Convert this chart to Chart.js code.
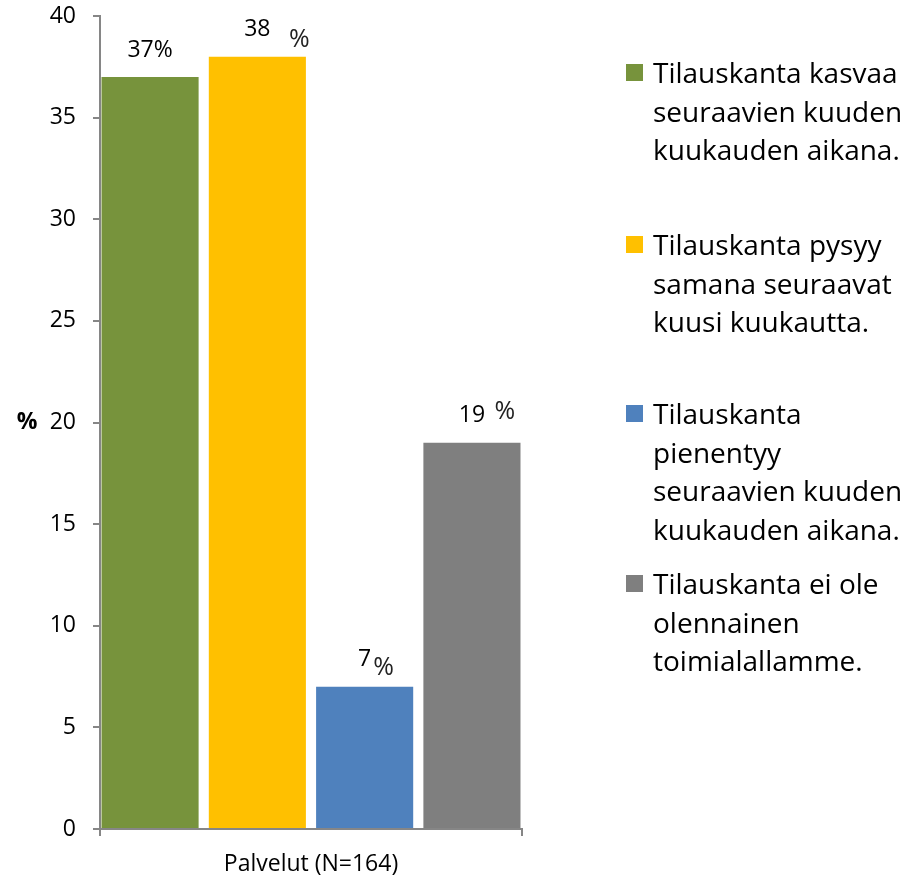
<!DOCTYPE html>
<html>
<head>
<meta charset="utf-8">
<script src="https://cdn.jsdelivr.net/npm/chart.js@4.4.0/dist/chart.umd.min.js"></script>
<style>
html,body{margin:0;padding:0;background:#fff;}
canvas{display:block;}
</style>
</head>
<body>
<canvas id="c" width="902" height="876"></canvas>
<script>
// ---- data ----
const categories = ["Palvelut (N=164)"];
const seriesLabels = [
  ["Tilauskanta kasvaa", "seuraavien kuuden", "kuukauden aikana."],
  ["Tilauskanta pysyy", "samana seuraavat", "kuusi kuukautta."],
  ["Tilauskanta", "pienentyy", "seuraavien kuuden", "kuukauden aikana."],
  ["Tilauskanta ei ole", "olennainen", "toimialallamme."]
];
const seriesValues = [[37], [38], [7], [19]];
const yTicks = [0, 5, 10, 15, 20, 25, 30, 35, 40];
const yTitle = "%";

// ---- styles ----
const colors = ["#77933C", "#FFC000", "#4F81BD", "#7F7F7F"];
const axisColor = "#868686";
const FONT = "'Open Sans', 'Noto Sans', sans-serif";
// percent-sign placement relative to each bar label (null = attached)
const pctOffsets = [null, {dx: 42, dy: 10}, {dx: 19, dy: 8.5}, {dx: 33, dy: -3.5}];
const legendBaselines = [83, 255, 424, 594];

const valueLabels = {
  id: 'valueLabels',
  afterDatasetsDraw(chart) {
    const ctx = chart.ctx;
    ctx.save();
    ctx.fillStyle = '#000';
    ctx.textBaseline = 'middle';
    chart.data.datasets.forEach((ds, i) => {
      const el = chart.getDatasetMeta(i).data[0];
      const v = ds.data[0];
      const cx = el.x, cy = el.y - 27;
      const off = pctOffsets[i];
      ctx.textAlign = 'center';
      ctx.font = "23px " + FONT;
      if (!off) {
        ctx.fillText(v + "%", cx, cy);
      } else {
        ctx.fillText(String(v), cx, cy);
        ctx.font = "25px " + FONT;
        ctx.fillStyle = '#222';
        ctx.fillText("%", cx + off.dx, cy + off.dy);
        ctx.fillStyle = '#000';
      }
    });
    ctx.restore();
  }
};

const extras = {
  id: 'extras',
  afterDraw(chart) {
    const ctx = chart.ctx;
    ctx.save();
    // y axis title
    ctx.fillStyle = '#000';
    ctx.font = "bold 23px " + FONT;
    ctx.textAlign = 'center';
    ctx.textBaseline = 'middle';
    const ys = chart.scales.y;
    ctx.fillText(yTitle, 27, ys.getPixelForValue(20));
    // legend
    ctx.textAlign = 'left';
    ctx.textBaseline = 'alphabetic';
    ctx.font = "28px " + FONT;
    seriesLabels.forEach((lines, i) => {
      const b = legendBaselines[i];
      ctx.fillStyle = colors[i];
      ctx.fillRect(626, b - 19, 17, 17);
      ctx.fillStyle = '#000';
      lines.forEach((t, j) => ctx.fillText(t, 653, b + j * 38.5));
    });
    ctx.restore();
  }
};

new Chart(document.getElementById('c'), {
  type: 'bar',
  data: {
    labels: categories,
    datasets: seriesValues.map((vals, i) => ({
      label: seriesLabels[i].join(' '),
      data: vals,
      backgroundColor: colors[i],
      borderWidth: 0,
      categoryPercentage: 1.017,
      barPercentage: 0.905
    }))
  },
  options: {
    responsive: false,
    animation: false,
    layout: {padding: {left: 0, right: 380, top: 16, bottom: 0}},
    plugins: {legend: {display: false}, tooltip: {enabled: false}},
    scales: {
      x: {
        grid: {display: true, drawOnChartArea: false, color: axisColor, lineWidth: 2, tickLength: 7},
        border: {color: axisColor, width: 2},
        ticks: {color: '#000', font: {family: FONT, size: 23}, padding: 15},
        afterFit(s) { s.height = 47; s.paddingLeft = 0; s.paddingRight = 0; }
      },
      y: {
        min: 0, max: 40,
        afterBuildTicks(s) { s.ticks = yTicks.map(v => ({value: v})); },
        grid: {display: true, drawOnChartArea: false, color: axisColor, lineWidth: 2, tickLength: 7},
        border: {color: axisColor, width: 2},
        ticks: {color: '#000', font: {family: FONT, size: 23}, padding: 17},
        afterFit(s) { s.width = 100; s.paddingTop = 0; s.paddingBottom = 0; }
      }
    }
  },
  plugins: [valueLabels, extras]
});
</script>
</body>
</html>
